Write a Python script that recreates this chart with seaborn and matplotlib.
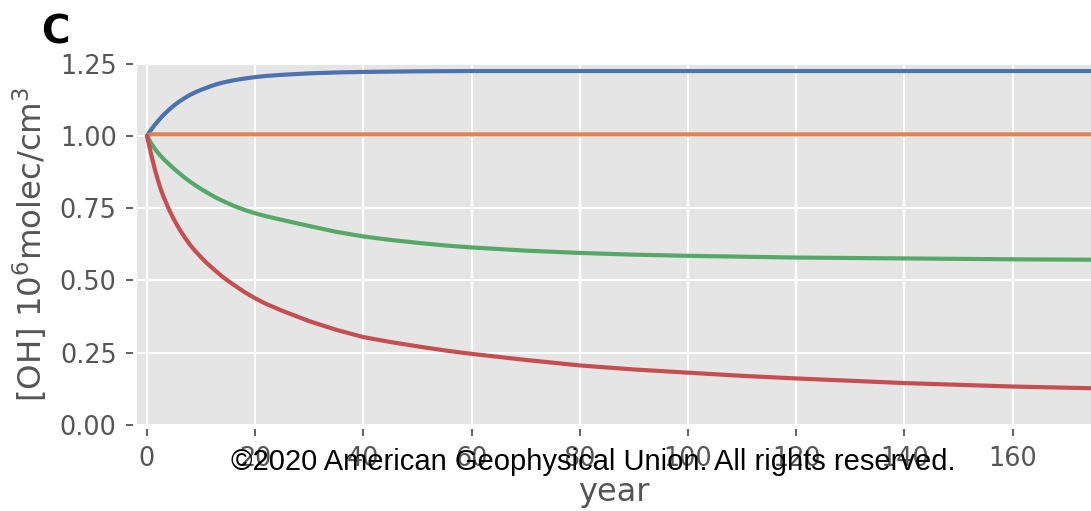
import numpy as np
import pandas as pd
import matplotlib
matplotlib.use("Agg")
import matplotlib.pyplot as plt
import seaborn as sns

years = [0, 0.5, 1, 1.5, 2, 2.5, 3, 4, 5, 6, 7, 8, 9, 10, 11, 12, 13, 14, 16, 18,
         20, 22, 25, 30, 35, 40, 45, 50, 55, 60, 70, 80, 90, 100, 110, 120, 130,
         140, 150, 160, 170, 180]

oh_blue = [1.0, 1.014, 1.027, 1.039, 1.05, 1.061, 1.071,
           1.089, 1.105, 1.119, 1.131, 1.142, 1.151, 1.159, 1.166, 1.173, 1.179, 1.184,
           1.192, 1.198, 1.203, 1.207, 1.211,
           1.216, 1.219, 1.221, 1.222, 1.223, 1.2235, 1.224,
           1.224, 1.224, 1.224, 1.224, 1.224, 1.224, 1.224, 1.224, 1.224, 1.224,
           1.224, 1.224]
oh_orange = [1.0, 1.004, 1.005, 1.005, 1.005, 1.005, 1.005,
             1.005, 1.005, 1.005, 1.005, 1.005, 1.005, 1.005, 1.005, 1.005, 1.005,
             1.005, 1.005, 1.005, 1.005, 1.005, 1.005,
             1.005, 1.005, 1.005, 1.005, 1.005, 1.005, 1.005,
             1.005, 1.005, 1.005, 1.005, 1.005, 1.005, 1.005, 1.005, 1.005, 1.005,
             1.005, 1.005]
oh_green = [1.0, 0.983, 0.967, 0.954, 0.942, 0.931, 0.921,
            0.903, 0.886, 0.87, 0.855, 0.841, 0.828, 0.816, 0.805, 0.794, 0.784, 0.775,
            0.758, 0.744, 0.732, 0.722, 0.709,
            0.688, 0.668, 0.652, 0.64, 0.63, 0.621, 0.614,
            0.603, 0.595, 0.589, 0.585, 0.582, 0.579, 0.5775, 0.576, 0.5745, 0.573,
            0.572, 0.571]
oh_red = [1.0, 0.958, 0.918, 0.881, 0.848, 0.818, 0.792,
          0.748, 0.71, 0.677, 0.648, 0.622, 0.60, 0.58, 0.561, 0.544, 0.528, 0.512,
          0.485, 0.46, 0.438, 0.419, 0.395,
          0.359, 0.329, 0.304, 0.287, 0.272, 0.258, 0.246,
          0.225, 0.206, 0.192, 0.181, 0.17, 0.161, 0.153, 0.145, 0.139, 0.133,
          0.129, 0.125]

series_names = ["s1", "s2", "s3", "s4"]
series_values = [oh_blue, oh_orange, oh_green, oh_red]
palette = ["#4C72B0", "#DD8452", "#55A868", "#C44E52"]

x_ticks = [0, 20, 40, 60, 80, 100, 120, 140, 160]
y_ticks = [0.00, 0.25, 0.50, 0.75, 1.00, 1.25]

df = pd.concat(
    [pd.DataFrame({"year": years, "OH": vals, "run": name})
     for name, vals in zip(series_names, series_values)],
    ignore_index=True,
)

sns.set_theme(style="darkgrid")
plt.rcParams["font.family"] = ["DejaVu Sans"]

fig = plt.figure(figsize=(10.91, 5.11), dpi=100)
ax = fig.add_axes([0.1258, 0.1683, 0.8742, 0.7074])
ax.set_facecolor("#E5E5E5")

sns.lineplot(data=df, x="year", y="OH", hue="run", palette=palette,
             linewidth=3.0, legend=False, ax=ax, sort=True)

ax.set_xlim(-1.8, 174.5)
ax.set_ylim(0, 1.25)
ax.set_xticks(x_ticks)
ax.set_xticklabels([str(t) for t in x_ticks])
ax.set_yticks(y_ticks)
ax.set_yticklabels([f"{t:.2f}" for t in y_ticks])

ax.grid(True, color="white", linewidth=1.4)
for side in ["left", "bottom", "top", "right"]:
    ax.spines[side].set_visible(False)
ax.spines["left"].set_position(("outward", 3))
ax.spines["bottom"].set_position(("outward", 3))

ax.tick_params(axis="both", which="major", direction="out", length=4.8,
               width=1.3, color="#555555", labelcolor="#555555",
               labelsize=18.4, pad=7, left=True, bottom=True)

ax.set_xlabel("year", fontsize=23, color="#555555", labelpad=4)
ax.set_ylabel(r"[OH] 10$^6$molec/cm$^3$", fontsize=23.3, color="#555555", labelpad=7)

fig.text(0.038, 0.915, "C", fontsize=28, fontweight="bold", color="black",
         ha="left", va="baseline")
fig.text(0.5435, 0.080, "©2020 American Geophysical Union. All rights reserved.",
         fontsize=21, family=["Liberation Sans", "DejaVu Sans"], color="black",
         ha="center", va="baseline")

fig.savefig("out.png", dpi=100)
